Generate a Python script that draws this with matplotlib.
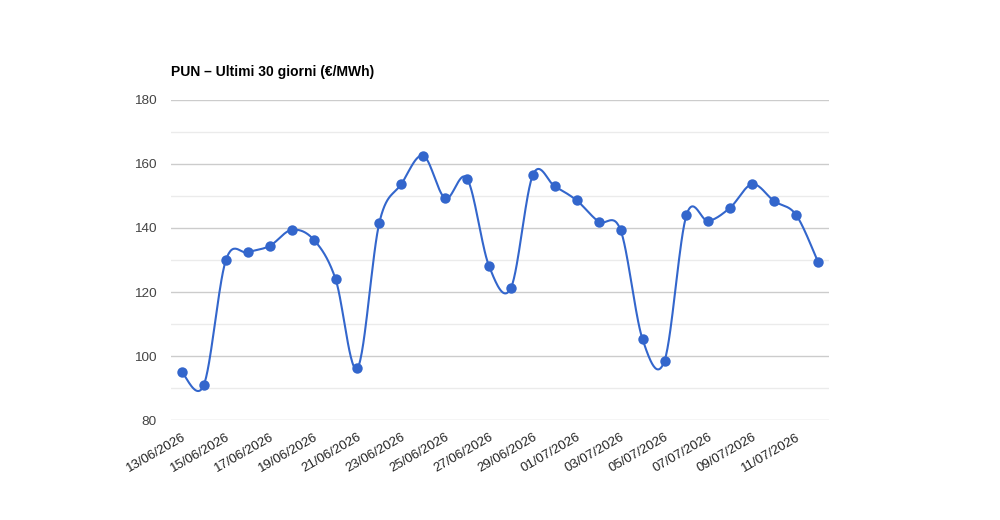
import numpy as np
import matplotlib
matplotlib.use("Agg")
import matplotlib.pyplot as plt

plt.rcParams['font.family'] = ['Liberation Sans', 'DejaVu Sans']

dates = ["13/06/2026", "14/06/2026", "15/06/2026", "16/06/2026", "17/06/2026",
         "18/06/2026", "19/06/2026", "20/06/2026", "21/06/2026", "22/06/2026",
         "23/06/2026", "24/06/2026", "25/06/2026", "26/06/2026", "27/06/2026",
         "28/06/2026", "29/06/2026", "30/06/2026", "01/07/2026", "02/07/2026",
         "03/07/2026", "04/07/2026", "05/07/2026", "06/07/2026", "07/07/2026",
         "08/07/2026", "09/07/2026", "10/07/2026", "11/07/2026", "12/07/2026"]
prices = [94.9, 91.0, 129.9, 132.4, 134.4, 139.4, 136.4, 124.1, 96.2, 141.7,
          153.7, 162.6, 149.3, 155.4, 128.1, 121.3, 156.6, 153.0, 148.6, 142.0,
          139.3, 105.2, 98.5, 144.0, 142.2, 146.4, 153.7, 148.4, 144.1, 129.4]
title = "PUN \u2013 Ultimi 30 giorni (\u20ac/MWh)"

x = np.arange(len(prices), dtype=float)
y = np.array(prices, dtype=float)

# smooth curve (cardinal / Catmull-Rom style Bezier segments)
def smooth(x, y, n=30, k=1/6):
    xs, ys = [], []
    N = len(x)
    for i in range(N - 1):
        x0, y0 = x[i], y[i]
        x3, y3 = x[i + 1], y[i + 1]
        xp, yp = (x[i - 1], y[i - 1]) if i > 0 else (x0, y0)
        xn, yn = (x[i + 2], y[i + 2]) if i + 2 < N else (x3, y3)
        x1 = x0 + (x3 - xp) * k
        y1 = y0 + (y3 - yp) * k
        x2 = x3 - (xn - x0) * k
        y2 = y3 - (yn - y0) * k
        t = np.linspace(0, 1, n, endpoint=(i == N - 2))
        a = (1 - t) ** 3; b = 3 * (1 - t) ** 2 * t; c = 3 * (1 - t) * t ** 2; d = t ** 3
        xs.append(a * x0 + b * x1 + c * x2 + d * x3)
        ys.append(a * y0 + b * y1 + c * y2 + d * y3)
    return np.concatenate(xs), np.concatenate(ys)

sx, sy = smooth(x, y)

fig = plt.figure(figsize=(10, 5.2), dpi=100)
ax = fig.add_axes([0.171, 0.1923, 0.658, 0.6154])

for v in np.arange(90, 180, 20):
    ax.axhline(v, color='#ebebeb', lw=1.0, zorder=1)
for v in np.arange(80, 181, 20):
    ax.axhline(v, color='#cccccc', lw=1.0, zorder=1)

color = '#3366cc'
ax.plot(sx, sy, color=color, lw=1.5, zorder=3, solid_capstyle='round')
ax.plot(x, y, 'o', color=color, markersize=7.5, markeredgewidth=0, zorder=4)

ax.set_xlim(-0.5, len(prices) - 0.5)
ax.set_ylim(80, 180)
ax.set_yticks(np.arange(80, 181, 20))
ax.set_xticks(x[::2])
ax.set_xticklabels(dates[::2], rotation=30, ha='right', rotation_mode='anchor',
                   fontsize=9.5, color='#222222')
for lab in ax.get_yticklabels():
    lab.set_fontsize(9.7)
    lab.set_color('#444444')
ax.tick_params(axis='both', length=0)
ax.tick_params(axis='y', pad=10.5)
ax.tick_params(axis='x', pad=8)
for s in ax.spines.values():
    s.set_visible(False)

fig.text(0.171, 1 - 76 / 520, title, fontsize=10.0, fontweight='bold', color='#000000',
         ha='left', va='baseline')

fig.savefig('out.png', dpi=100, facecolor='white')
